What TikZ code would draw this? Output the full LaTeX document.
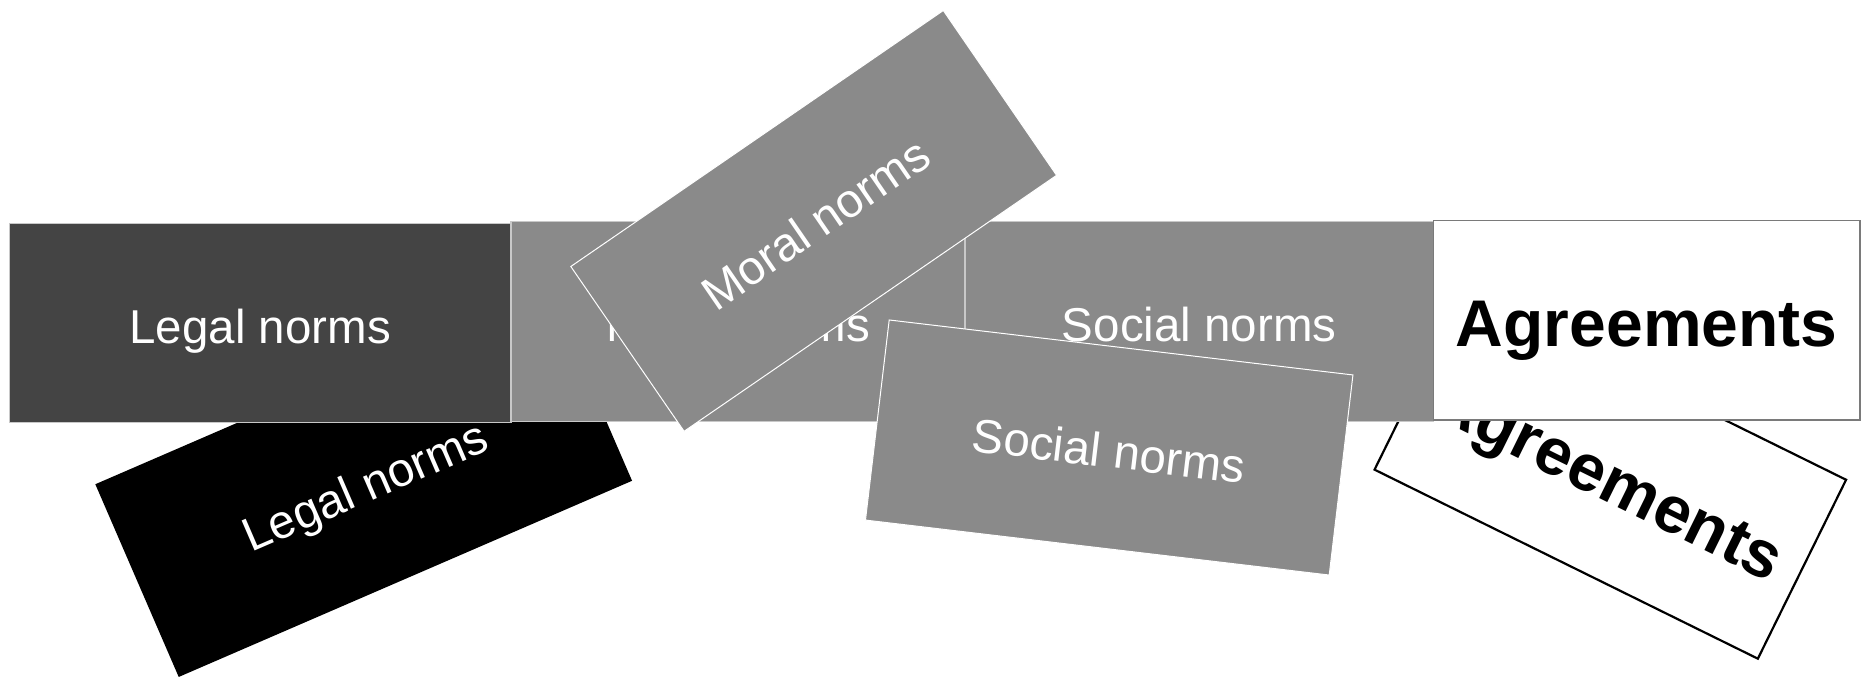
\documentclass[tikz,border=0pt]{standalone}
\usepackage{fontspec}
\setmainfont{Liberation Sans}
\definecolor{darkbox}{HTML}{444444}
\definecolor{graybox}{HTML}{8A8A8A}
\definecolor{edgelight}{HTML}{C8C8C8}
\definecolor{edgegray}{HTML}{7A7A7A}
\tikzset{
  card/.style={rectangle, inner sep=0pt, outer sep=0pt, anchor=center,
    font=\fontsize{47.5}{57}\selectfont, text=white,
    text height=40pt, text depth=0pt},
  rowbox/.style={card, draw=edgelight, line width=1.2pt},
  tiltbox/.style={card, draw=white, line width=1pt},
  agreebox/.style={rectangle, inner sep=0pt, outer sep=0pt, anchor=center,
    font=\fontsize{66}{78}\selectfont\bfseries, text=black, fill=white,
    text height=52.6pt, text depth=0pt}
}
\begin{document}
\begin{tikzpicture}[x=1pt, y=-1pt]
\useasboundingbox (0,0) rectangle (1865,678);
% tilted copies underneath the row
\node[card, fill=black, minimum width=494pt, minimum height=210pt, rotate=23.4]
  (legalt) at (363.7,482.5) {Legal norms};
\node[agreebox, draw=black, line width=2.2pt, minimum width=427.4pt, minimum height=199.5pt, rotate=-26.25]
  (agreet) at (1610.3,474.7) {Agreements};
% the row of boxes
\node[rowbox, fill=darkbox, minimum width=501.5pt, minimum height=199pt]
  (legal) at (260.25,323) {Legal norms};
\node[rowbox, fill=graybox, minimum width=454pt, minimum height=200.5pt]
  (moral) at (738,321.5) {Moral norms};
\node[rowbox, fill=graybox, minimum width=468.5pt, minimum height=200.5pt]
  (social) at (1199.2,321.5) {Social norms};
\node[agreebox, draw=edgegray, line width=1.2pt, minimum width=426.7pt, minimum height=199.3pt]
  (agree) at (1646.7,320.4) {Agreements};
% tilted copies on top
\node[tiltbox, fill=graybox, minimum width=452pt, minimum height=200pt, rotate=34.5]
  (moralt) at (813.7,220.9) {Moral norms};
\node[tiltbox, fill=graybox, minimum width=467pt, minimum height=201.5pt, rotate=-6.76]
  (socialt) at (1109.2,447.5) {Social norms};
\end{tikzpicture}
\end{document}
